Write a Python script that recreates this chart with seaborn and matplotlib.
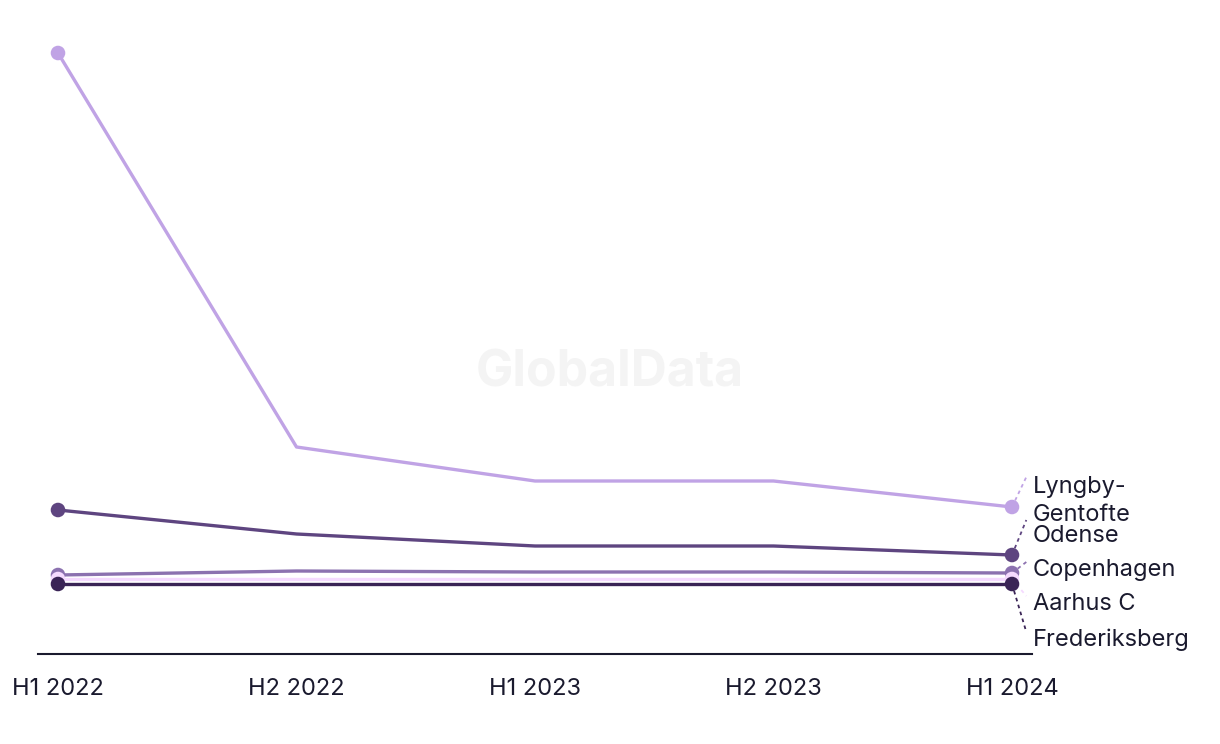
import matplotlib
matplotlib.use("Agg")
import matplotlib.pyplot as plt
import seaborn as sns
import pandas as pd

periods = ["H1 2022", "H2 2022", "H1 2023", "H2 2023", "H1 2024"]
cities = ["Lyngby-Gentofte", "Odense", "Copenhagen", "Aarhus C", "Frederiksberg"]
lyngby = [601, 207, 173, 173, 147]
odense = [144, 120, 108, 108, 99]
copenhagen = [79, 83, 82, 82, 81]
aarhus = [75, 75, 75, 75, 75]
frederiksberg = [70, 70, 70, 70, 70]
series = [lyngby, odense, copenhagen, aarhus, frederiksberg]
colors = ["#c0a3e5", "#5e4580", "#8c72b0", "#f5daff", "#3a2456"]
labels = ["Lyngby-\nGentofte", "Odense", "Copenhagen", "Aarhus C", "Frederiksberg"]

rows = []
for c, vals in zip(cities, series):
    for i, (p, v) in enumerate(zip(periods, vals)):
        rows.append({"city": c, "period": p, "x": i, "value": v})
df = pd.DataFrame(rows)

sns.set_theme(style="white")
plt.rcParams["font.family"] = ["Inter", "DejaVu Sans"]

fig = plt.figure(figsize=(12.2, 7.44), dpi=100)
ax = fig.add_axes([38/1220, 90/744, (1032-38)/1220, (654-20)/744])

palette = dict(zip(cities, colors))
sns.lineplot(data=df, x="x", y="value", hue="city", palette=palette,
             hue_order=cities, linewidth=2.4, legend=False, ax=ax)
ends = df[df["x"].isin([0, len(periods) - 1])]
sns.scatterplot(data=ends, x="x", y="value", hue="city", palette=palette,
                hue_order=cities, s=110, edgecolor="none", legend=False,
                ax=ax, zorder=5)

ax.set_xlim(-20/238.5, 4 + 20/238.5)
ax.set_ylim(0, 634)
ax.set_xticks(range(len(periods)))
ax.set_xticklabels(periods, fontsize=17, color="#1a1a2e")
ax.tick_params(axis="x", length=0, pad=17)
ax.set_yticks([])
ax.set_xlabel("")
ax.set_ylabel("")
for s in ["top", "right", "left"]:
    ax.spines[s].set_visible(False)
ax.spines["bottom"].set_color("#1a1a2e")
ax.spines["bottom"].set_linewidth(1.5)

# right-hand labels with dashed connectors
label_y = [153, 118, 84, 50, 14]
conn_y = [177, 134, 92, 58, 22]
lx = 4 + 21/238.5
for vals, col, lab, ly, cy in zip(series, colors, labels, label_y, conn_y):
    ax.plot([4, 4.06], [vals[-1], cy], ls=(0, (2, 2)), color=col, lw=1.3,
            clip_on=False, zorder=4)
    ax.text(lx, ly, lab, fontsize=17, color="#1a1a2e", va="center", ha="left",
            clip_on=False, linespacing=1.4)

fig.text(610/1220, 1 - 373/744, "GlobalData", fontsize=36, fontweight="bold",
         color="#f4f4f4", ha="center", va="center", zorder=0)

fig.savefig("out.png", dpi=100)
